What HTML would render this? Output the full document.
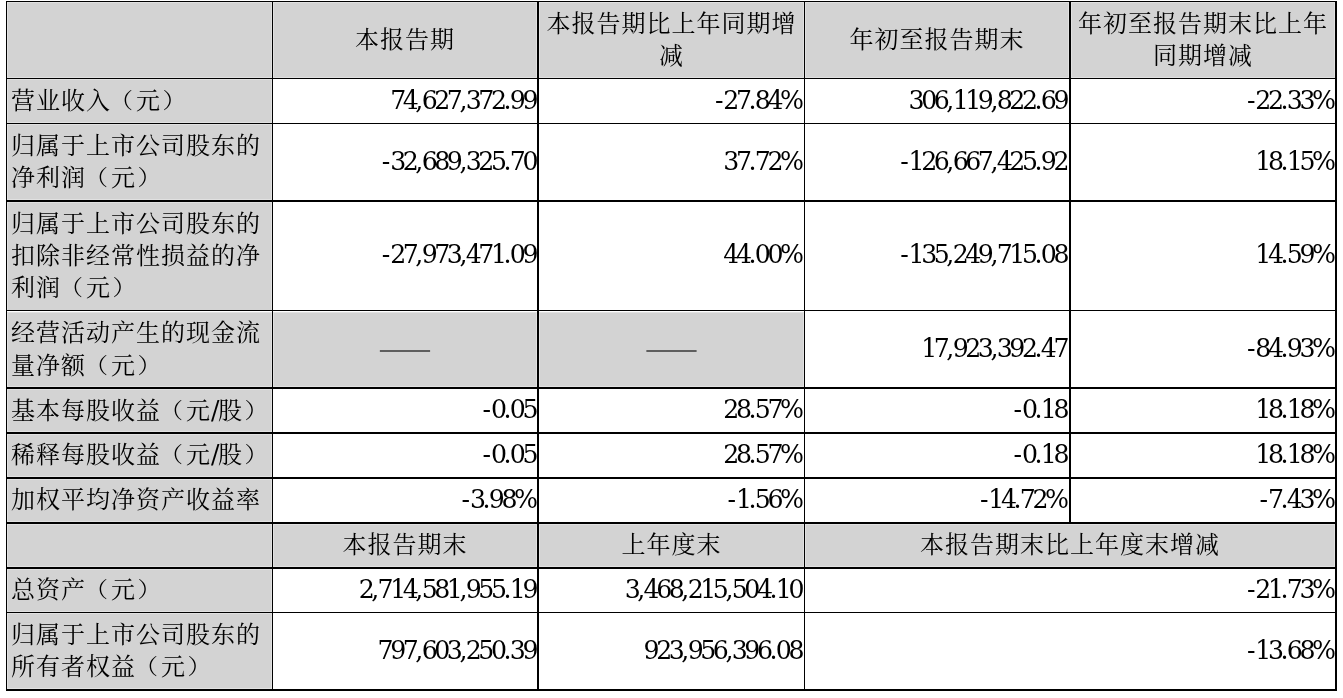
<!DOCTYPE html>
<html lang="zh-CN"><head><meta charset="utf-8"><title>Table</title>
<style>
html,body{margin:0;padding:0;background:#fff}
body{width:1343px;height:698px;position:relative;overflow:hidden;
 font-family:"DejaVu Serif","Noto Serif CJK SC","Liberation Serif",serif;font-size:24px;color:#000;
 font-weight:400}
.b{position:absolute;background:#000}
.g{position:absolute;background:#d3d3d3;box-shadow:inset 0 0 0 1px #e1e1e1}
.t{position:absolute;display:flex;align-items:center;line-height:32px;letter-spacing:1px;white-space:nowrap}
.t>div{width:100%}
.l,.c{white-space:normal}
.l{text-align:left} .l>div{padding-left:4px}
.c{text-align:center}
.r{text-align:right} .r>div{padding-right:2px;letter-spacing:0}
.nd{font-size:25.2px;letter-spacing:-3.433px}
.np{font-size:25.2px;letter-spacing:-1.710px}
.nh{font-size:25.2px;letter-spacing:-0.123px}
.nc{font-size:25.2px;letter-spacing:-2.953px}
.ns{font-size:25.2px;letter-spacing:-1.485px}
.pl,.pr{display:inline-block;font-weight:300;transform:translateX(-2px) scaleY(.9)}
.pr{transform:translateX(1.5px) scaleY(.9)}
.em{font-family:"Noto Serif CJK SC",serif;font-size:27px;letter-spacing:0;font-weight:300;font-feature-settings:"fwid";position:relative;top:2px;color:#5e5e5e;text-shadow:0 1px 0 #5e5e5e}
</style></head><body>

<div class="g" style="left:7px;top:2px;width:265px;height:76px"></div>
<div class="g" style="left:273px;top:2px;width:264px;height:76px"></div>
<div class="g" style="left:539px;top:2px;width:265px;height:76px"></div>
<div class="g" style="left:805px;top:2px;width:264px;height:76px"></div>
<div class="g" style="left:1071px;top:2px;width:264px;height:76px"></div>
<div class="g" style="left:7px;top:79px;width:265px;height:44px"></div>
<div class="g" style="left:7px;top:124px;width:265px;height:76px"></div>
<div class="g" style="left:7px;top:202px;width:265px;height:108px;box-shadow:inset 1px 1px 0 0 #e1e1e1,inset -1px 0 0 0 #e1e1e1"></div>
<div class="g" style="left:7px;top:311px;width:265px;height:76px;border-top:1px solid #fff;box-sizing:border-box"></div>
<div class="g" style="left:273px;top:311px;width:264px;height:76px;border-top:1px solid #fff;box-sizing:border-box"></div>
<div class="g" style="left:539px;top:311px;width:265px;height:76px;border-top:1px solid #fff;box-sizing:border-box"></div>
<div class="g" style="left:7px;top:389px;width:265px;height:43px"></div>
<div class="g" style="left:7px;top:434px;width:265px;height:43px"></div>
<div class="g" style="left:7px;top:479px;width:265px;height:43px"></div>
<div class="g" style="left:7px;top:524px;width:265px;height:43px"></div>
<div class="g" style="left:273px;top:524px;width:264px;height:43px"></div>
<div class="g" style="left:539px;top:524px;width:265px;height:43px"></div>
<div class="g" style="left:805px;top:524px;width:530px;height:43px"></div>
<div class="g" style="left:7px;top:569px;width:265px;height:43px"></div>
<div class="g" style="left:7px;top:613px;width:265px;height:76px"></div>
<div class="b" style="left:6px;top:1px;width:1331px;height:1px"></div>
<div class="b" style="left:6px;top:78px;width:1331px;height:1px"></div>
<div class="b" style="left:6px;top:123px;width:1331px;height:1px"></div>
<div class="b" style="left:6px;top:200px;width:1331px;height:2px"></div>
<div class="b" style="left:6px;top:310px;width:1331px;height:1px"></div>
<div class="b" style="left:6px;top:387px;width:1331px;height:2px"></div>
<div class="b" style="left:6px;top:432px;width:1331px;height:2px"></div>
<div class="b" style="left:6px;top:477px;width:1331px;height:2px"></div>
<div class="b" style="left:6px;top:522px;width:1331px;height:2px"></div>
<div class="b" style="left:6px;top:567px;width:1331px;height:2px"></div>
<div class="b" style="left:6px;top:612px;width:1331px;height:1px"></div>
<div class="b" style="left:6px;top:689px;width:1331px;height:2px"></div>
<div class="b" style="left:6px;top:1px;width:1px;height:690px"></div>
<div class="b" style="left:272px;top:1px;width:1px;height:690px"></div>
<div class="b" style="left:537px;top:1px;width:2px;height:690px"></div>
<div class="b" style="left:804px;top:1px;width:1px;height:690px"></div>
<div class="b" style="left:1069px;top:1px;width:2px;height:521px"></div>
<div class="b" style="left:1335px;top:1px;width:2px;height:690px"></div>
<div class="t c" style="left:273px;top:2px;width:264px;height:76px"><div>本报告期</div></div>
<div class="t c" style="left:539px;top:2px;width:265px;height:76px"><div>本报告期比上年同期增减</div></div>
<div class="t c" style="left:805px;top:2px;width:264px;height:76px"><div>年初至报告期末</div></div>
<div class="t c" style="left:1071px;top:2px;width:264px;height:76px"><div>年初至报告期末比上年同期增减</div></div>
<div class="t l" style="left:7px;top:79px;width:265px;height:44px"><div>营业收入<span class="pl">（</span>元<span class="pr">）</span></div></div>
<div class="t r" style="left:273px;top:79px;width:264px;height:44px"><div><span class="nd">74</span><span class="np">,</span><span class="nd">627</span><span class="np">,</span><span class="nd">372</span><span class="np">.</span><span class="nd">99</span></div></div>
<div class="t r" style="left:539px;top:79px;width:264px;height:44px"><div><span class="nh">-</span><span class="nd">27</span><span class="np">.</span><span class="nd">84</span><span class="nc">%</span></div></div>
<div class="t r" style="left:805px;top:79px;width:263px;height:44px"><div><span class="nd">306</span><span class="np">,</span><span class="nd">119</span><span class="np">,</span><span class="nd">822</span><span class="np">.</span><span class="nd">69</span></div></div>
<div class="t r" style="left:1071px;top:79px;width:264px;height:44px"><div><span class="nh">-</span><span class="nd">22</span><span class="np">.</span><span class="nd">33</span><span class="nc">%</span></div></div>
<div class="t l" style="left:7px;top:124px;width:265px;height:76px"><div>归属于上市公司股东的净利润<span class="pl">（</span>元<span class="pr">）</span></div></div>
<div class="t r" style="left:273px;top:124px;width:264px;height:76px"><div><span class="nh">-</span><span class="nd">32</span><span class="np">,</span><span class="nd">689</span><span class="np">,</span><span class="nd">325</span><span class="np">.</span><span class="nd">70</span></div></div>
<div class="t r" style="left:539px;top:124px;width:264px;height:76px"><div><span class="nd">37</span><span class="np">.</span><span class="nd">72</span><span class="nc">%</span></div></div>
<div class="t r" style="left:805px;top:124px;width:263px;height:76px"><div><span class="nh">-</span><span class="nd">126</span><span class="np">,</span><span class="nd">667</span><span class="np">,</span><span class="nd">425</span><span class="np">.</span><span class="nd">92</span></div></div>
<div class="t r" style="left:1071px;top:124px;width:264px;height:76px"><div><span class="nd">18</span><span class="np">.</span><span class="nd">15</span><span class="nc">%</span></div></div>
<div class="t l" style="left:7px;top:202px;width:265px;height:108px"><div>归属于上市公司股东的扣除非经常性损益的净利润<span class="pl">（</span>元<span class="pr">）</span></div></div>
<div class="t r" style="left:273px;top:201px;width:264px;height:108px"><div><span class="nh">-</span><span class="nd">27</span><span class="np">,</span><span class="nd">973</span><span class="np">,</span><span class="nd">471</span><span class="np">.</span><span class="nd">09</span></div></div>
<div class="t r" style="left:539px;top:201px;width:264px;height:108px"><div><span class="nd">44</span><span class="np">.</span><span class="nd">00</span><span class="nc">%</span></div></div>
<div class="t r" style="left:805px;top:201px;width:263px;height:108px"><div><span class="nh">-</span><span class="nd">135</span><span class="np">,</span><span class="nd">249</span><span class="np">,</span><span class="nd">715</span><span class="np">.</span><span class="nd">08</span></div></div>
<div class="t r" style="left:1071px;top:201px;width:264px;height:108px"><div><span class="nd">14</span><span class="np">.</span><span class="nd">59</span><span class="nc">%</span></div></div>
<div class="t l" style="left:7px;top:312px;width:265px;height:76px;line-height:33px"><div>经营活动产生的现金流量净额<span class="pl">（</span>元<span class="pr">）</span></div></div>
<div class="t c" style="left:273px;top:311px;width:264px;height:76px"><div><span class="em">——</span></div></div>
<div class="t c" style="left:539px;top:311px;width:265px;height:76px"><div><span class="em">——</span></div></div>
<div class="t r" style="left:805px;top:311px;width:263px;height:76px"><div><span class="nd">17</span><span class="np">,</span><span class="nd">923</span><span class="np">,</span><span class="nd">392</span><span class="np">.</span><span class="nd">47</span></div></div>
<div class="t r" style="left:1071px;top:311px;width:264px;height:76px"><div><span class="nh">-</span><span class="nd">84</span><span class="np">.</span><span class="nd">93</span><span class="nc">%</span></div></div>
<div class="t l" style="left:7px;top:389px;width:265px;height:43px"><div>基本每股收益<span class="pl">（</span>元<span class="ns">/</span>股<span class="pr">）</span></div></div>
<div class="t r" style="left:273px;top:388px;width:264px;height:43px"><div><span class="nh">-</span><span class="nd">0</span><span class="np">.</span><span class="nd">05</span></div></div>
<div class="t r" style="left:539px;top:388px;width:264px;height:43px"><div><span class="nd">28</span><span class="np">.</span><span class="nd">57</span><span class="nc">%</span></div></div>
<div class="t r" style="left:805px;top:388px;width:263px;height:43px"><div><span class="nh">-</span><span class="nd">0</span><span class="np">.</span><span class="nd">18</span></div></div>
<div class="t r" style="left:1071px;top:388px;width:264px;height:43px"><div><span class="nd">18</span><span class="np">.</span><span class="nd">18</span><span class="nc">%</span></div></div>
<div class="t l" style="left:7px;top:433px;width:265px;height:43px"><div>稀释每股收益<span class="pl">（</span>元<span class="ns">/</span>股<span class="pr">）</span></div></div>
<div class="t r" style="left:273px;top:433px;width:264px;height:43px"><div><span class="nh">-</span><span class="nd">0</span><span class="np">.</span><span class="nd">05</span></div></div>
<div class="t r" style="left:539px;top:433px;width:264px;height:43px"><div><span class="nd">28</span><span class="np">.</span><span class="nd">57</span><span class="nc">%</span></div></div>
<div class="t r" style="left:805px;top:433px;width:263px;height:43px"><div><span class="nh">-</span><span class="nd">0</span><span class="np">.</span><span class="nd">18</span></div></div>
<div class="t r" style="left:1071px;top:433px;width:264px;height:43px"><div><span class="nd">18</span><span class="np">.</span><span class="nd">18</span><span class="nc">%</span></div></div>
<div class="t l" style="left:7px;top:478px;width:265px;height:43px"><div>加权平均净资产收益率</div></div>
<div class="t r" style="left:273px;top:478px;width:264px;height:43px"><div><span class="nh">-</span><span class="nd">3</span><span class="np">.</span><span class="nd">98</span><span class="nc">%</span></div></div>
<div class="t r" style="left:539px;top:478px;width:264px;height:43px"><div><span class="nh">-</span><span class="nd">1</span><span class="np">.</span><span class="nd">56</span><span class="nc">%</span></div></div>
<div class="t r" style="left:805px;top:478px;width:263px;height:43px"><div><span class="nh">-</span><span class="nd">14</span><span class="np">.</span><span class="nd">72</span><span class="nc">%</span></div></div>
<div class="t r" style="left:1071px;top:478px;width:264px;height:43px"><div><span class="nh">-</span><span class="nd">7</span><span class="np">.</span><span class="nd">43</span><span class="nc">%</span></div></div>
<div class="t c" style="left:273px;top:523px;width:264px;height:43px"><div>本报告期末</div></div>
<div class="t c" style="left:539px;top:523px;width:265px;height:43px"><div>上年度末</div></div>
<div class="t c" style="left:805px;top:523px;width:530px;height:43px"><div>本报告期末比上年度末增减</div></div>
<div class="t l" style="left:7px;top:568px;width:265px;height:43px"><div>总资产<span class="pl">（</span>元<span class="pr">）</span></div></div>
<div class="t r" style="left:273px;top:568px;width:264px;height:43px"><div><span class="nd">2</span><span class="np">,</span><span class="nd">714</span><span class="np">,</span><span class="nd">581</span><span class="np">,</span><span class="nd">955</span><span class="np">.</span><span class="nd">19</span></div></div>
<div class="t r" style="left:539px;top:568px;width:264px;height:43px"><div><span class="nd">3</span><span class="np">,</span><span class="nd">468</span><span class="np">,</span><span class="nd">215</span><span class="np">,</span><span class="nd">504</span><span class="np">.</span><span class="nd">10</span></div></div>
<div class="t r" style="left:805px;top:568px;width:530px;height:43px"><div><span class="nh">-</span><span class="nd">21</span><span class="np">.</span><span class="nd">73</span><span class="nc">%</span></div></div>
<div class="t l" style="left:7px;top:613px;width:265px;height:76px"><div>归属于上市公司股东的所有者权益<span class="pl">（</span>元<span class="pr">）</span></div></div>
<div class="t r" style="left:273px;top:613px;width:264px;height:76px"><div><span class="nd">797</span><span class="np">,</span><span class="nd">603</span><span class="np">,</span><span class="nd">250</span><span class="np">.</span><span class="nd">39</span></div></div>
<div class="t r" style="left:539px;top:613px;width:264px;height:76px"><div><span class="nd">923</span><span class="np">,</span><span class="nd">956</span><span class="np">,</span><span class="nd">396</span><span class="np">.</span><span class="nd">08</span></div></div>
<div class="t r" style="left:805px;top:613px;width:530px;height:76px"><div><span class="nh">-</span><span class="nd">13</span><span class="np">.</span><span class="nd">68</span><span class="nc">%</span></div></div>
</body></html>
